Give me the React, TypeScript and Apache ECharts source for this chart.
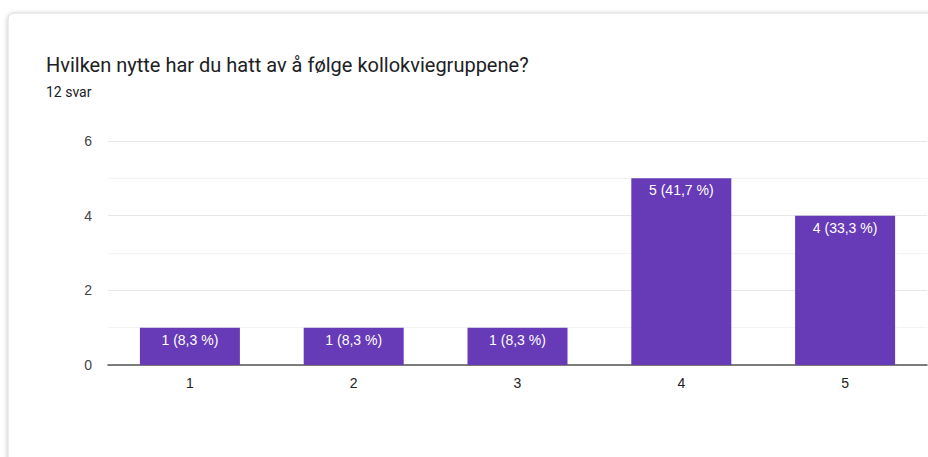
import React, { useEffect, useRef } from "react";
import * as echarts from "echarts";

const categories = ["1", "2", "3", "4", "5"];
const counts = [1, 1, 1, 5, 4];
const percents = ["8,3", "8,3", "8,3", "41,7", "33,3"];
const titleText = "Hvilken nytte har du hatt av å følge kollokviegruppene?";
const subtitleText = "12 svar";

export default function App() {
  const ref = useRef<HTMLDivElement>(null);
  useEffect(() => {
    if (!ref.current) return;
    const chart = echarts.init(ref.current, null, { renderer: "svg" });
    chart.setOption({
      animation: false,
      backgroundColor: "#ffffff",
      graphic: [
        {
          type: "rect",
          z: -10,
          silent: true,
          shape: { x: 8, y: 13, width: 940, height: 470, r: 6 },
          style: {
            fill: "#ffffff",
            stroke: "#dadce0",
            lineWidth: 1,
            shadowBlur: 4,
            shadowColor: "rgba(0,0,0,0.25)",
            shadowOffsetX: 0,
            shadowOffsetY: 1,
          },
        },
      ],
      title: [
        {
          text: titleText,
          left: 41,
          top: 50,
          textStyle: {
            fontFamily: "Roboto",
            fontSize: 20,
            fontWeight: "normal",
            color: "#202124",
          },
        },
        {
          text: subtitleText,
          left: 41,
          top: 80,
          textStyle: {
            fontFamily: "Roboto",
            fontSize: 14,
            fontWeight: "normal",
            color: "#202124",
          },
        },
      ],
      grid: { left: 108, right: 1, top: 141, bottom: 92 },
      xAxis: {
        type: "category",
        data: categories,
        axisLine: { lineStyle: { color: "#555555", width: 1.5 } },
        axisTick: { show: false },
        axisLabel: {
          color: "#222222",
          fontFamily: "Liberation Sans",
          fontSize: 14,
          margin: 11,
        },
      },
      yAxis: {
        type: "value",
        min: 0,
        max: 6,
        interval: 2,
        axisLine: { show: false },
        axisTick: { show: false },
        axisLabel: {
          color: "#444444",
          fontFamily: "Liberation Sans",
          fontSize: 14,
          margin: 16,
        },
        splitLine: { lineStyle: { color: "#e8e8e8", width: 1 } },
        minorTick: { show: false, splitNumber: 2 },
        minorSplitLine: { show: true, lineStyle: { color: "#f3f3f3", width: 1 } },
      },
      series: [
        {
          type: "bar",
          data: counts,
          barWidth: 100,
          itemStyle: { color: "#673ab7" },
          label: {
            show: true,
            position: "insideTop",
            distance: 5,
            color: "#ffffff",
            fontFamily: "Liberation Sans",
            fontSize: 14,
            formatter: (p: any) => `${counts[p.dataIndex]} (${percents[p.dataIndex]} %)`,
          },
        },
      ],
    });
    return () => chart.dispose();
  }, []);
  return (
    <div
      ref={ref}
      style={{ position: "fixed", left: 0, top: 0, width: 928, height: 457 }}
    />
  );
}
